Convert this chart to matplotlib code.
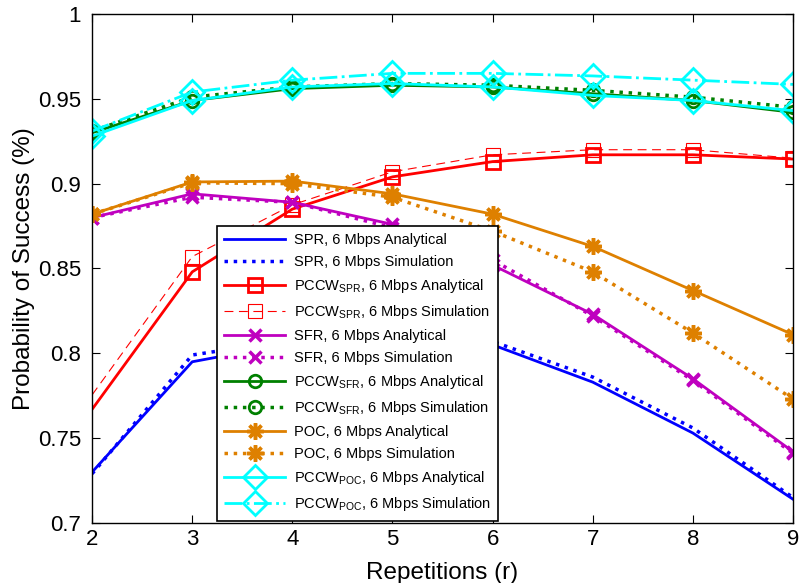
import matplotlib.pyplot as plt
import numpy as np

plt.rcParams['font.family'] = ['Liberation Sans', 'DejaVu Sans']
plt.rcParams['mathtext.fontset'] = 'custom'
plt.rcParams['mathtext.rm'] = 'Liberation Sans'
plt.rcParams['mathtext.it'] = 'Liberation Sans'

r = [2, 3, 4, 5, 6, 7, 8, 9]

spr_ana = [0.730, 0.795, 0.806, 0.809, 0.805, 0.783, 0.753, 0.714]
spr_sim = [0.729, 0.799, 0.808, 0.811, 0.807, 0.786, 0.756, 0.715]
pccw_spr_ana = [0.767, 0.848, 0.885, 0.904, 0.913, 0.917, 0.917, 0.9145]
pccw_spr_sim = [0.7755, 0.857, 0.8875, 0.907, 0.917, 0.920, 0.920, 0.915]
sfr_ana = [0.880, 0.894, 0.889, 0.876, 0.852, 0.823, 0.785, 0.742]
sfr_sim = [0.880, 0.892, 0.889, 0.874, 0.855, 0.822, 0.784, 0.741]
pccw_sfr_ana = [0.930, 0.949, 0.956, 0.958, 0.957, 0.953, 0.949, 0.942]
pccw_sfr_sim = [0.931, 0.951, 0.957, 0.959, 0.958, 0.955, 0.951, 0.945]
poc_ana = [0.882, 0.901, 0.9015, 0.894, 0.882, 0.863, 0.837, 0.811]
poc_sim = [0.882, 0.9005, 0.900, 0.892, 0.872, 0.848, 0.812, 0.773]
pccw_poc_ana = [0.928, 0.949, 0.957, 0.959, 0.957, 0.952, 0.949, 0.943]
pccw_poc_sim = [0.931, 0.954, 0.961, 0.965, 0.965, 0.9635, 0.961, 0.9585]

yticks = [0.7, 0.75, 0.8, 0.85, 0.9, 0.95, 1.0]
ytick_labels = ['0.7', '0.75', '0.8', '0.85', '0.9', '0.95', '1']

orange = (0.87, 0.5, 0.0)
magenta = (0.75, 0.0, 0.75)
green = (0.0, 0.5, 0.0)
asterisk = (8, 2, 0)

fig = plt.figure(figsize=(8.01, 5.83), dpi=100)
ax = fig.add_axes([0.115, 0.103, 0.875, 0.873])

lw = 2.0
# PCCW-SPR markers start from r = 3
skip_first = slice(1, None)
ax.plot(r, spr_ana, '-', color='blue', lw=lw, label='SPR, 6 Mbps Analytical')
ax.plot(r, spr_sim, ':', color='blue', lw=lw + 0.5, label='SPR, 6 Mbps Simulation')
ax.plot(r, pccw_spr_ana, '-', color='red', lw=lw, marker='s', ms=10, mfc='none', mew=2,
        markevery=skip_first, label='PCCW$_{SPR}$, 6 Mbps Analytical')
ax.plot(r, pccw_spr_sim, '--', color='red', lw=0.8, marker='s', ms=10, mfc='none', mew=0.8,
        dashes=(8, 5), markevery=skip_first, label='PCCW$_{SPR}$, 6 Mbps Simulation')
ax.plot(r, sfr_ana, '-', color=magenta, lw=lw, marker='x', ms=9, mew=2.5,
        label='SFR, 6 Mbps Analytical')
ax.plot(r, sfr_sim, ':', color=magenta, lw=lw + 0.5, marker='x', ms=9, mew=2.5,
        label='SFR, 6 Mbps Simulation')
ax.plot(r, pccw_sfr_ana, '-', color=green, lw=lw, marker='o', ms=9, mfc='none', mew=2,
        label='PCCW$_{SFR}$, 6 Mbps Analytical')
ax.plot(r, pccw_sfr_sim, ':', color=green, lw=lw + 0.5, marker='o', ms=9, mfc='none', mew=2,
        label='PCCW$_{SFR}$, 6 Mbps Simulation')
ax.plot(r, poc_ana, '-', color=orange, lw=lw, marker=asterisk, ms=12, mew=2.5,
        label='POC, 6 Mbps Analytical')
ax.plot(r, poc_sim, ':', color=orange, lw=lw + 0.5, marker=asterisk, ms=12, mew=2.5,
        label='POC, 6 Mbps Simulation')
ax.plot(r, pccw_poc_ana, '-', color='cyan', lw=lw, marker='D', ms=12, mfc='none', mew=2,
        label='PCCW$_{POC}$, 6 Mbps Analytical')
ax.plot(r, pccw_poc_sim, '-.', color='cyan', lw=lw, marker='D', ms=12, mfc='none', mew=2,
        label='PCCW$_{POC}$, 6 Mbps Simulation')

ax.set_xlim(2, 9)
ax.set_ylim(0.7, 1.0)
ax.set_xticks(r)
ax.set_yticks(yticks)
ax.set_yticklabels(ytick_labels)
ax.tick_params(direction='in', top=True, right=True, labelsize=16, length=6)
ax.tick_params(axis='x', pad=4)
ax.tick_params(axis='y', pad=8)
for s in ax.spines.values():
    s.set_linewidth(1.0)

ax.set_xlabel('Repetitions (r)', fontsize=17.5, labelpad=9)
ax.set_ylabel('Probability of Success (%)', fontsize=17.5, labelpad=2)

leg = ax.legend(loc='lower left', bbox_to_anchor=(0.175, 0.0), fontsize=10.5,
                frameon=True, fancybox=False, edgecolor='black', framealpha=1,
                handlelength=4.2, labelspacing=0.55, borderpad=0.5, handletextpad=0.6,
                borderaxespad=0.15)
leg.get_frame().set_linewidth(1.2)

fig.savefig('out.png', dpi=100)
